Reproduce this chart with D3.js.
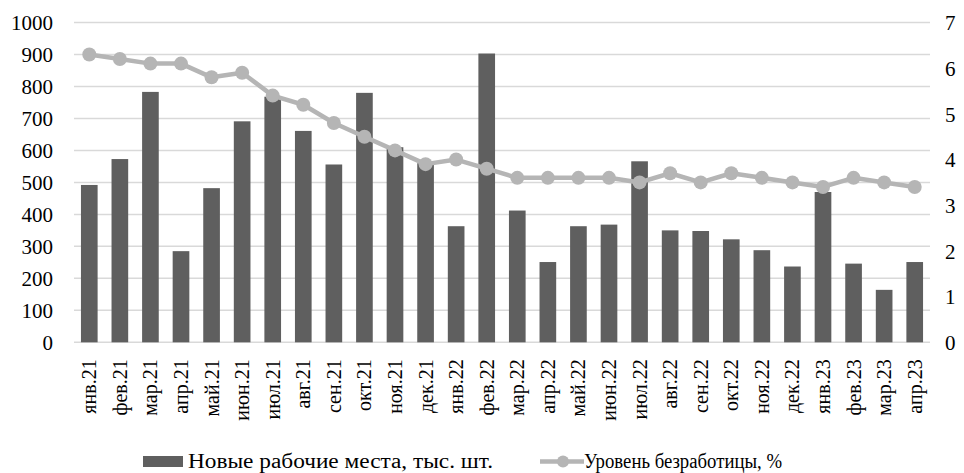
<!DOCTYPE html>
<html>
<head>
<meta charset="utf-8">
<script src="https://cdn.jsdelivr.net/npm/d3@7"></script>
<style>
	body { margin: 0; background: #fff; }
	svg text { fill: #000; }
</style>
</head>
<body>
<div id="chart"></div>
<script>
var months = ["янв.21", "фев.21", "мар.21", "апр.21", "май.21", "июн.21", "июл.21",
	"авг.21", "сен.21", "окт.21", "ноя.21", "дек.21", "янв.22", "фев.22", "мар.22",
	"апр.22", "май.22", "июн.22", "июл.22", "авг.22", "сен.22", "окт.22", "ноя.22",
	"дек.22", "янв.23", "фев.23", "мар.23", "апр.23"];

// новые рабочие места, тыс. шт.
var newJobs = [492, 573, 783, 285, 482, 691, 768, 661, 556, 780, 610, 560, 363, 903,
	412, 251, 363, 368, 566, 350, 348, 322, 288, 237, 470, 246, 164, 251];

// уровень безработицы, %
var unemployment = [6.3, 6.2, 6.1, 6.1, 5.8, 5.9, 5.4, 5.2, 4.8, 4.5, 4.2, 3.9, 4.0, 3.8,
	3.6, 3.6, 3.6, 3.6, 3.5, 3.7, 3.5, 3.7, 3.6, 3.5, 3.4, 3.6, 3.5, 3.4];

var leftTicks = [0, 100, 200, 300, 400, 500, 600, 700, 800, 900, 1000];
var rightTicks = [0, 1, 2, 3, 4, 5, 6, 7];

var width = 964, height = 473;
var plotLeft = 74, plotRight = 930, plotTop = 22.5, plotBottom = 342.3;
var serif = "Liberation Serif, DejaVu Serif, Times, Nimbus Roman, Noto Serif, serif";

var svg = d3.select("#chart").append("svg")
	.attr("width", width).attr("height", height)
	.style("font-family", serif);

var x = d3.scaleBand().domain(months).range([plotLeft, plotRight]).paddingInner(0.455).paddingOuter(0.2275);
var yL = d3.scaleLinear().domain([0, 1000]).range([plotBottom, plotTop]);
var yR = d3.scaleLinear().domain([0, 7]).range([plotBottom, plotTop]);

// gridlines
svg.append("g").selectAll("line").data(leftTicks).enter().append("line")
	.attr("x1", plotLeft).attr("x2", plotRight)
	.attr("y1", function(d) { return yL(d); })
	.attr("y2", function(d) { return yL(d); })
	.attr("stroke", "#d9d9d9").attr("stroke-width", 1.5);

// left axis
var axL = svg.append("g").attr("transform", "translate(" + (plotLeft - 21) + ",0)")
	.call(d3.axisLeft(yL).tickValues(leftTicks).tickFormat(d3.format("d")).tickSize(0).tickPadding(0));
axL.select(".domain").remove();
axL.attr("font-family", null);
axL.selectAll("text").attr("font-size", "21px").attr("dy", "0.35em");

// right axis
var axR = svg.append("g").attr("transform", "translate(" + (plotRight + 15) + ",0)")
	.call(d3.axisRight(yR).tickValues(rightTicks).tickFormat(d3.format("d")).tickSize(0).tickPadding(0));
axR.select(".domain").remove();
axR.attr("font-family", null);
axR.selectAll("text").attr("font-size", "21px").attr("dy", "0.35em");

// bars
svg.append("g").selectAll("rect").data(newJobs).enter().append("rect")
	.attr("x", function(d, i) { return x(months[i]); })
	.attr("width", x.bandwidth())
	.attr("y", function(d) { return yL(d); })
	.attr("height", function(d) { return plotBottom - yL(d); })
	.attr("fill", "#5f5f5f");

// x labels (rotated)
var axX = svg.append("g").attr("transform", "translate(0," + plotBottom + ")")
	.call(d3.axisBottom(x).tickSize(0).tickPadding(0));
axX.select(".domain").remove();
axX.attr("font-family", null);
axX.selectAll("text")
	.attr("font-size", "20px")
	.attr("transform", "rotate(-90)")
	.attr("text-anchor", "end")
	.attr("x", -17).attr("y", 0).attr("dy", "0.35em");

// line
var cx = function(i) { return x(months[i]) + x.bandwidth() / 2; };
var line = d3.line()
	.x(function(d, i) { return cx(i); })
	.y(function(d) { return yR(d); });
svg.append("path").datum(unemployment).attr("d", line)
	.attr("fill", "none").attr("stroke", "#b5b5b5").attr("stroke-width", 4.5)
	.attr("stroke-linejoin", "round");
svg.append("g").selectAll("circle").data(unemployment).enter().append("circle")
	.attr("cx", function(d, i) { return cx(i); })
	.attr("cy", function(d) { return yR(d); })
	.attr("r", 7).attr("fill", "#b5b5b5");

// legend
var lg = svg.append("g");
lg.append("rect").attr("x", 143).attr("y", 456).attr("width", 40).attr("height", 11)
	.attr("fill", "#5f5f5f");
lg.append("text").attr("x", 188).attr("y", 468).attr("font-size", "20px")
	.attr("textLength", 305).attr("lengthAdjust", "spacingAndGlyphs")
	.text("Новые рабочие места, тыс. шт.");
lg.append("line").attr("x1", 540).attr("x2", 584).attr("y1", 461.5).attr("y2", 461.5)
	.attr("stroke", "#b5b5b5").attr("stroke-width", 4.5);
lg.append("circle").attr("cx", 563).attr("cy", 461.5).attr("r", 6).attr("fill", "#b5b5b5");
lg.append("text").attr("x", 584).attr("y", 468).attr("font-size", "20px")
	.attr("textLength", 198).attr("lengthAdjust", "spacingAndGlyphs")
	.text("Уровень безработицы, %");
</script>
</body>
</html>
